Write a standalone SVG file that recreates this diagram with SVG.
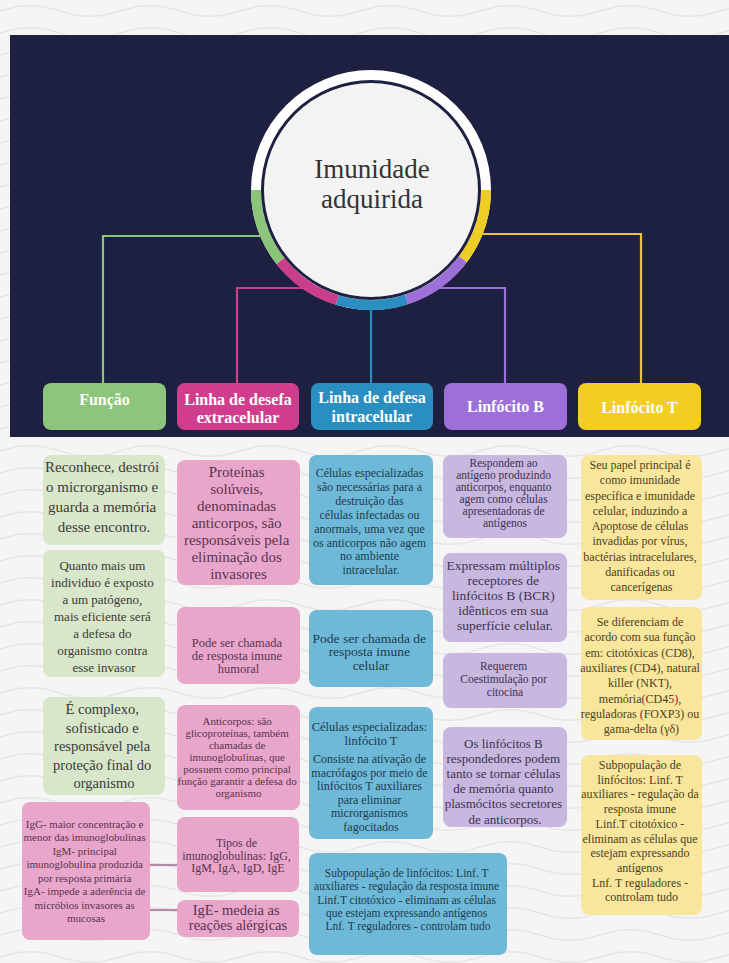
<svg xmlns="http://www.w3.org/2000/svg" width="729" height="963" viewBox="0 0 729 963">
<style>
  .hdr { font-family: "Liberation Serif", serif; font-weight: bold; font-size: 16px; fill: #ffffff; text-anchor: middle; }
  .t { font-family: "Liberation Serif", serif; text-anchor: middle; }
  .tg { fill: #3a3a3a; }
  .tp { fill: #5a3450; }
  .tb { fill: #1e3b50; }
  .tu { fill: #3d3350; }
  .ty { fill: #4b4222; }
  .bg { fill: #d8e6c9; }
  .bp { fill: #e8a6cb; }
  .bb { fill: #6db9d7; }
  .bu { fill: #c8b7df; }
  .by { fill: #f8e69d; }
  .conn { fill: none; stroke-width: 2.2; }
</style>
<defs>
  <pattern id="waves" width="120" height="22" patternUnits="userSpaceOnUse">
    <path d="M0 11 C 20 4, 40 4, 60 11 S 100 18, 120 11" fill="none" stroke="#e6e6e6" stroke-width="1.4"/>
  </pattern>
</defs>

<!-- backgrounds -->
<rect x="0" y="0" width="729" height="963" fill="#f5f5f5"/>
<rect x="0" y="0" width="729" height="963" fill="url(#waves)"/>
<rect x="10" y="35" width="719" height="402" fill="#1d2040"/>

<!-- connectors -->
<g id="connectors">
  <path class="conn" d="M260 236 H103 V384" stroke="#8bc57a"/>
  <path class="conn" d="M302 288 H237 V384" stroke="#c93d8a"/>
  <path class="conn" d="M371 310 V384" stroke="#2a8fc0"/>
  <path class="conn" d="M440 288 H505 V384" stroke="#9d6fd8"/>
  <path class="conn" d="M483 234 H641 V384" stroke="#e9c531"/>
  <path class="conn" d="M150 865 H178" stroke="#b58aa5"/>
  <path class="conn" d="M150 910 H178" stroke="#b58aa5"/>
</g>

<!-- central node -->
<g id="root">
  <circle cx="371" cy="190" r="120" fill="#ffffff"/>
  <path d="M486 190 A115 115 0 0 1 462.9 259.2" fill="none" stroke="#f0cd24" stroke-width="10"/>
  <path d="M462.9 259.2 A115 115 0 0 1 406.5 299.4" fill="none" stroke="#9d6fd8" stroke-width="10"/>
  <path d="M406.5 299.4 A115 115 0 0 1 337.4 300" fill="none" stroke="#2a8fc0" stroke-width="10"/>
  <path d="M337.4 300 A115 115 0 0 1 280.4 260.8" fill="none" stroke="#c93d8a" stroke-width="10"/>
  <path d="M280.4 260.8 A115 115 0 0 1 256 190" fill="none" stroke="#8bc57a" stroke-width="10"/>
  <circle cx="371" cy="190" r="108.5" fill="#f3f3f3" stroke="#1d2040" stroke-width="3"/>
  <text class="t" x="372" y="178" font-size="27" fill="#333333">Imunidade</text>
  <text class="t" x="372" y="208" font-size="27" fill="#333333">adquirida</text>
</g>

<!-- header nodes -->
<g id="h-funcao">
  <rect x="43" y="383" width="123" height="47" rx="8" fill="#8cc57b"/>
  <text class="hdr" x="104.5" y="405">Função</text>
</g>
<g id="h-extra">
  <rect x="177" y="383" width="122" height="47" rx="8" fill="#d13d8d"/>
  <text class="hdr" x="238" y="405" font-size="15.5">Linha de desefa</text>
  <text class="hdr" x="238" y="423" font-size="15.5">extracelular</text>
</g>
<g id="h-intra">
  <rect x="311" y="383" width="122" height="47" rx="8" fill="#2a8fc0"/>
  <text class="hdr" x="372" y="403" font-size="15.5">Linha de defesa</text>
  <text class="hdr" x="372" y="422" font-size="15.5">intracelular</text>
</g>
<g id="h-linfb">
  <rect x="444" y="383" width="123" height="47" rx="8" fill="#9d6fd8"/>
  <text class="hdr" x="505.5" y="412">Linfócito B</text>
</g>
<g id="h-linft">
  <rect x="578" y="383" width="123" height="47" rx="8" fill="#f3cd22"/>
  <text class="hdr" x="639.5" y="413">Linfócito T</text>
</g>

<!-- column 1: Função -->
<g id="f1">
  <rect class="bg" x="43" y="455" width="122" height="90" rx="8"/>
  <text class="t tg" font-size="15">
    <tspan x="104" y="472">Reconhece, destrói</tspan>
    <tspan x="104" y="492">o microrganismo e</tspan>
    <tspan x="104" y="512">guarda a memória</tspan>
    <tspan x="104" y="532">desse encontro.</tspan>
  </text>
</g>
<g id="f2">
  <rect class="bg" x="43" y="550" width="122" height="127" rx="8"/>
  <text class="t tg" font-size="13">
    <tspan x="104" y="569.5">Quanto mais um</tspan>
    <tspan x="104" y="586.5">individuo é exposto</tspan>
    <tspan x="104" y="603.5">a um patógeno,</tspan>
    <tspan x="104" y="620.5">mais eficiente será</tspan>
    <tspan x="104" y="637.5">a defesa do</tspan>
    <tspan x="104" y="654.5">organismo contra</tspan>
    <tspan x="104" y="671.5">esse invasor</tspan>
  </text>
</g>
<g id="f3">
  <rect class="bg" x="43" y="697" width="122" height="98" rx="8"/>
  <text class="t tg" font-size="14.5">
    <tspan x="104" y="714">É complexo,</tspan>
    <tspan x="104" y="732.5">sofisticado e</tspan>
    <tspan x="104" y="751">responsável pela</tspan>
    <tspan x="104" y="769.5">proteção final do</tspan>
    <tspan x="104" y="788">organismo</tspan>
  </text>
</g>
<g id="f4">
  <rect class="bp" x="22" y="802" width="128" height="138" rx="8"/>
  <text class="t tp" font-size="11">
    <tspan x="86" y="827.5">IgG- maior concentração e</tspan>
    <tspan x="86" y="841">menor das imunoglobulinas</tspan>
    <tspan x="86" y="854.5">IgM- principal</tspan>
    <tspan x="86" y="868">imunoglobulina produzida</tspan>
    <tspan x="86" y="881.5">por resposta primária</tspan>
    <tspan x="86" y="895">IgA- impede a aderência de</tspan>
    <tspan x="86" y="908.5">micróbios invasores as</tspan>
    <tspan x="86" y="922">mucosas</tspan>
  </text>
</g>

<!-- column 2: extracelular -->
<g id="e1">
  <rect class="bp" x="177" y="460" width="123" height="125" rx="8"/>
  <text class="t tp" font-size="15">
    <tspan x="238.5" y="477">Proteínas</tspan>
    <tspan x="238.5" y="494">solúveis,</tspan>
    <tspan x="238.5" y="511">denominadas</tspan>
    <tspan x="238.5" y="528">anticorpos, são</tspan>
    <tspan x="238.5" y="545">responsáveis pela</tspan>
    <tspan x="238.5" y="562">eliminação dos</tspan>
    <tspan x="238.5" y="579">invasores</tspan>
  </text>
</g>
<g id="e2">
  <rect class="bp" x="177" y="607" width="123" height="77" rx="8"/>
  <text class="t tp" font-size="12.5">
    <tspan x="238.5" y="647">Pode  ser chamada</tspan>
    <tspan x="238.5" y="660">de resposta imune</tspan>
    <tspan x="238.5" y="673">humoral</tspan>
  </text>
</g>
<g id="e3">
  <rect class="bp" x="177" y="705" width="123" height="105" rx="8"/>
  <text class="t tp" font-size="11">
    <tspan x="238.5" y="725">Anticorpos: são</tspan>
    <tspan x="238.5" y="737">glicoproteínas, também</tspan>
    <tspan x="238.5" y="749">chamadas de</tspan>
    <tspan x="238.5" y="761">imunoglobulinas, que</tspan>
    <tspan x="238.5" y="773">possuem como principal</tspan>
    <tspan x="238.5" y="785">função garantir a defesa do</tspan>
    <tspan x="238.5" y="797">organismo</tspan>
  </text>
</g>
<g id="e4">
  <rect class="bp" x="177" y="817" width="122" height="75" rx="8"/>
  <text class="t tp" font-size="12">
    <tspan x="238" y="847">Tipos de</tspan>
    <tspan x="238" y="859.5">imunoglobulinas: IgG,</tspan>
    <tspan x="238" y="872">IgM, IgA, IgD, IgE</tspan>
  </text>
</g>
<g id="e5">
  <rect class="bp" x="177" y="900" width="122" height="37" rx="8"/>
  <text class="t tp" font-size="14.5">
    <tspan x="238" y="915">IgE- medeia as</tspan>
    <tspan x="238" y="930">reações alérgicas</tspan>
  </text>
</g>

<!-- column 3: intracelular -->
<g id="i1">
  <rect class="bb" x="309" y="455" width="124" height="130" rx="8"/>
  <text class="t tb" font-size="12">
    <tspan x="371" y="477">Células especializadas</tspan>
    <tspan x="371" y="490.9">são necessárias para a</tspan>
    <tspan x="371" y="504.8">destruição das</tspan>
    <tspan x="371" y="518.7">células infectadas ou</tspan>
    <tspan x="371" y="532.6">anormais, uma vez que</tspan>
    <tspan x="371" y="546.5">os anticorpos não agem</tspan>
    <tspan x="371" y="560.4">no ambiente</tspan>
    <tspan x="371" y="574.3">intracelular.</tspan>
  </text>
</g>
<g id="i2">
  <rect class="bb" x="309" y="610" width="124" height="77" rx="8"/>
  <text class="t tb" font-size="13.5">
    <tspan x="371" y="642.5">Pode ser chamada de</tspan>
    <tspan x="371" y="656">resposta imune</tspan>
    <tspan x="371" y="669.5">celular</tspan>
  </text>
</g>
<g id="i3">
  <rect class="bb" x="309" y="707" width="124" height="132" rx="8"/>
  <text class="t tb" font-size="12.5">
    <tspan x="371" y="731">Células especializadas:</tspan>
    <tspan x="371" y="745">linfócito T</tspan>
  </text>
  <text class="t tb" font-size="12">
    <tspan x="371" y="763">Consiste na ativação de</tspan>
    <tspan x="371" y="776.5">macrófagos por meio de</tspan>
    <tspan x="371" y="790">linfócitos T auxiliares</tspan>
    <tspan x="371" y="803.5">para eliminar</tspan>
    <tspan x="371" y="817">microrganismos</tspan>
    <tspan x="371" y="830.5">fagocitados</tspan>
  </text>
</g>
<g id="i4">
  <rect class="bb" x="309" y="853" width="198" height="102" rx="8"/>
  <text class="t tb" font-size="11.5">
    <tspan x="408" y="877">Subpopulação de linfócitos: Linf. T</tspan>
    <tspan x="408" y="890.3">auxiliares - regulação da resposta imune</tspan>
    <tspan x="408" y="903.6">Linf.T citotóxico - eliminam as células</tspan>
    <tspan x="408" y="916.9">que estejam expressando antígenos</tspan>
    <tspan x="408" y="930.2">Lnf. T reguladores - controlam tudo</tspan>
  </text>
</g>

<!-- column 4: Linfócito B -->
<g id="b1">
  <rect class="bu" x="443" y="455" width="124" height="83" rx="8"/>
  <text class="t tu" font-size="11.5">
    <tspan x="505" y="467">Respondem ao</tspan>
    <tspan x="505" y="479">antígeno produzindo</tspan>
    <tspan x="505" y="491">anticorpos, enquanto</tspan>
    <tspan x="505" y="503">agem como células</tspan>
    <tspan x="505" y="515">apresentadoras de</tspan>
    <tspan x="505" y="527">antígenos</tspan>
  </text>
</g>
<g id="b2">
  <rect class="bu" x="443" y="553" width="124" height="89" rx="8"/>
  <text class="t tu" font-size="13.5">
    <tspan x="505" y="569.5">Expressam múltiplos</tspan>
    <tspan x="505" y="584.5">receptores de</tspan>
    <tspan x="505" y="599.5">linfócitos B (BCR)</tspan>
    <tspan x="505" y="614.5">idênticos em sua</tspan>
    <tspan x="505" y="629.5">superfície celular.</tspan>
  </text>
</g>
<g id="b3">
  <rect class="bu" x="443" y="653" width="124" height="55" rx="8"/>
  <text class="t tu" font-size="11.5">
    <tspan x="505" y="670">Requerem</tspan>
    <tspan x="505" y="683">Coestimulação por</tspan>
    <tspan x="505" y="696">citocina</tspan>
  </text>
</g>
<g id="b4">
  <rect class="bu" x="443" y="727" width="124" height="100" rx="8"/>
  <text class="t tu" font-size="13">
    <tspan x="505" y="747.5">Os linfócitos B</tspan>
    <tspan x="505" y="762.7">respondedores podem</tspan>
    <tspan x="505" y="777.9">tanto se tornar células</tspan>
    <tspan x="505" y="793.1">de memória quanto</tspan>
    <tspan x="505" y="808.3">plasmócitos secretores</tspan>
    <tspan x="505" y="823.5">de anticorpos.</tspan>
  </text>
</g>

<!-- column 5: Linfócito T -->
<g id="t1">
  <rect class="by" x="581" y="455" width="121" height="145" rx="8"/>
  <text class="t ty" font-size="12">
    <tspan x="641.5" y="469">Seu papel principal é</tspan>
    <tspan x="641.5" y="484.3">como imunidade</tspan>
    <tspan x="641.5" y="499.5">específica e imunidade</tspan>
    <tspan x="641.5" y="514.8">celular, induzindo a</tspan>
    <tspan x="641.5" y="530">Apoptose de células</tspan>
    <tspan x="641.5" y="545.3">invadidas por vírus,</tspan>
    <tspan x="641.5" y="560.5">bactérias intracelulares,</tspan>
    <tspan x="641.5" y="575.8">danificadas ou</tspan>
    <tspan x="641.5" y="591">cancerígenas</tspan>
  </text>
</g>
<g id="t2">
  <rect class="by" x="581" y="607" width="121" height="133" rx="8"/>
  <text class="t ty" font-size="12">
    <tspan x="641.5" y="626">Se diferenciam de</tspan>
    <tspan x="641.5" y="641.3">acordo com sua função</tspan>
    <tspan x="641.5" y="656.6">em: citotóxicas (CD8),</tspan>
    <tspan x="641.5" y="671.9">auxiliares (CD4), natural</tspan>
    <tspan x="641.5" y="687.2">killer (NKT),</tspan>
    <tspan x="641.5" y="702.5">memória(CD45),</tspan>
    <tspan x="641.5" y="717.8">reguladoras (FOXP3) ou</tspan>
    <tspan x="641.5" y="733.1">gama-delta (γδ)</tspan>
  </text>
</g>
<g id="t3">
  <rect class="by" x="581" y="755" width="121" height="160" rx="8"/>
  <text class="t ty" font-size="12">
    <tspan x="641.5" y="769">Subpopulação de</tspan>
    <tspan x="641.5" y="783.7">linfócitos: Linf. T</tspan>
    <tspan x="641.5" y="798.4">auxiliares - regulação da</tspan>
    <tspan x="641.5" y="813.1">resposta imune</tspan>
    <tspan x="641.5" y="827.8">Linf.T citotóxico -</tspan>
    <tspan x="641.5" y="842.5">eliminam as células que</tspan>
    <tspan x="641.5" y="857.2">estejam expressando</tspan>
    <tspan x="641.5" y="871.9">antígenos</tspan>
    <tspan x="641.5" y="886.6">Lnf. T reguladores -</tspan>
    <tspan x="641.5" y="901.3">controlam tudo</tspan>
  </text>
</g>
</svg>
